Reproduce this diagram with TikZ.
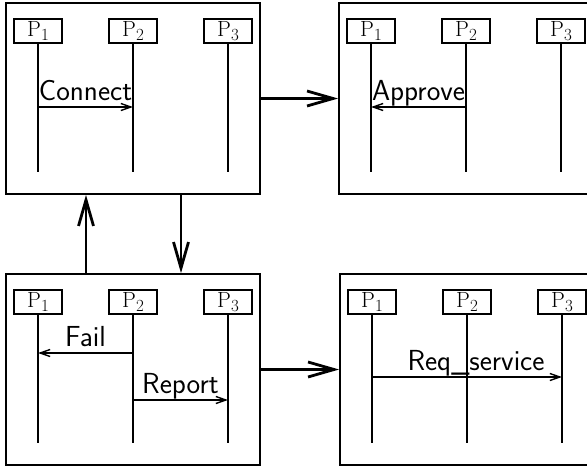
\documentclass[tikz,border=0pt]{standalone}
\usetikzlibrary{arrows.meta}
\begin{document}
\begin{tikzpicture}[x=1pt,y=-1pt,
    frame/.style={draw, line width=1.8pt, minimum width=254pt, minimum height=191pt, inner sep=0pt},
    proc/.style={draw, line width=1.5pt, minimum width=48pt, minimum height=24pt, inner sep=0pt,
      font=\fontsize{22}{24}\selectfont},
    life/.style={line width=2.4pt},
    msg/.style={line width=1.4pt, -{Straight Barb[length=10pt,width=7pt]}},
    flow/.style={line width=2.8pt, -{Straight Barb[length=26pt,width=15pt]}},
    lbl/.style={anchor=base, yshift=7pt, inner sep=0pt, font=\sffamily\fontsize{29}{32}\selectfont}]
  \useasboundingbox (0,0) rectangle (587,466);
  \clip (0,0) rectangle (587,466);
  % four snapshots, each with three processes
  \foreach \p/\x/\y in {a/6/3, b/339/3, c/6/274, d/340/274} {
    \node[frame] (\p) at (\x+127,\y+95.5) {};
    \foreach \i/\dx in {1/32,2/127,3/222} {
      \node[proc] (\p\i) at (\x+\dx,\y+28) {P\raisebox{-0.2em}{\fontsize{17}{18}\selectfont\i}};
      \coordinate (\p\i e) at (\x+\dx,\y+169);
      \draw[life] (\p\i) -- (\p\i e);
    }
  }
  % messages
  \draw[msg] (a1 |- 0,107) -- (a2 |- 0,107) node[lbl, midway]{Connect};
  \draw[msg] (b2 |- 0,107) -- (b1 |- 0,107) node[lbl, midway]{Approve};
  \draw[msg] (c2 |- 0,353) -- (c1 |- 0,353) node[lbl, midway]{Fail};
  \draw[msg] (c2 |- 0,400) -- (c3 |- 0,400) node[lbl, midway]{Report};
  \draw[msg] (d1 |- 0,377) -- (d3 |- 0,377) node[lbl, midway, xshift=9pt]{Req\_service};
  % transitions between snapshots
  \draw[flow] (a.east) -- (b.west);
  \draw[flow] (c.east) -- (d.west);
  \draw[flow] ([xshift=-47pt]c.north) -- ([xshift=-47pt]a.south);
  \draw[flow] ([xshift=48pt]a.south) -- ([xshift=48pt]c.north);
\end{tikzpicture}
\end{document}
